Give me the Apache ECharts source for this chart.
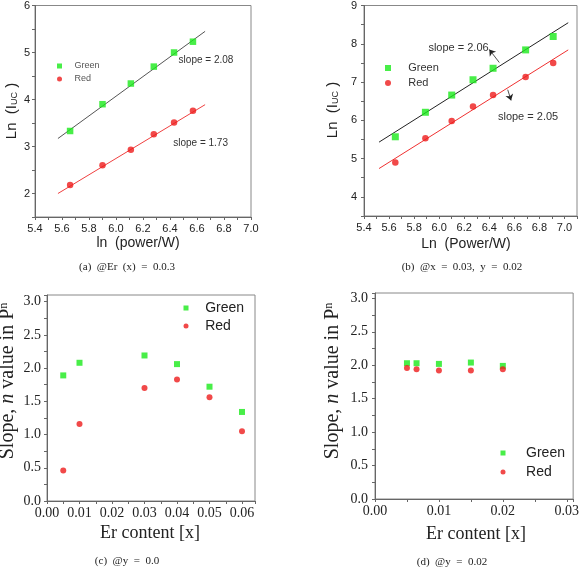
<!DOCTYPE html>
<html>
<head>
<meta charset="utf-8">
<script src="https://cdn.jsdelivr.net/npm/echarts@6/dist/echarts.min.js"></script>
<style>
  html, body { margin: 0; background: #fff; }
  #main { width: 582px; height: 567px; }
</style>
</head>
<body>
<div id="main"></div>
<script>
// (a) ln(I) vs ln(power), Er x = 0.03
const aPower = [5.66, 5.90, 6.11, 6.28, 6.43, 6.57];
const aGreen = [3.33, 3.90, 4.34, 4.70, 5.00, 5.23];
const aRed = [2.18, 2.60, 2.93, 3.26, 3.51, 3.76];
const aFitX = [5.57, 6.66];
const aFitGreen = [3.17, 5.45];
const aFitRed = [2.00, 3.89];
const aSlopeText = ["slope = 2.08", "slope = 1.73"];
const aSlopeAt = [[6.46, 4.83], [6.42, 3.06]];

// (b) x = 0.03, y = 0.02
const bPower = [5.65, 5.89, 6.10, 6.27, 6.43, 6.69, 6.91];
const bGreen = [5.57, 6.21, 6.66, 7.06, 7.36, 7.84, 8.19];
const bRed = [4.90, 5.53, 5.98, 6.36, 6.66, 7.13, 7.50];
const bFitX = [5.52, 7.03];
const bFitGreen = [5.43, 8.55];
const bFitRed = [4.74, 7.84];
const bSlopeText = ["slope = 2.06", "slope = 2.05"];
const bSlopeAt = [[5.91, 7.90], [6.465, 6.08]];
const bArrows = [[[6.48, 7.51], [6.40, 7.85]], [[6.547, 6.80], [6.574, 6.52]]];

// (c) slope vs Er content, y = 0.0
const cEr = [0.005, 0.01, 0.03, 0.04, 0.05, 0.06];
const cGreen = [1.89, 2.08, 2.19, 2.06, 1.72, 1.34];
const cRed = [0.46, 1.16, 1.70, 1.83, 1.56, 1.05];

// (d) slope vs Er content, y = 0.02
const dEr = [0.005, 0.0065, 0.01, 0.015, 0.02];
const dGreen = [2.03, 2.03, 2.02, 2.04, 1.99];
const dRed = [1.96, 1.94, 1.92, 1.92, 1.94];

const GREEN = "#1aea1a";
const RED = "#ee1c1c";
const SANS = 'Arial, "Liberation Sans", sans-serif';
const SERIF = '"Times New Roman", "Liberation Serif", serif';

const pairs = (xs, ys) => xs.map((x, i) => [x, ys[i]]);
// only label the ticks that fall on a multiple of step
const every = (step, digits) => v =>
  Math.abs(v / step - Math.round(v / step)) < 1e-6 ? v.toFixed(digits) : "";

function axis(gridIndex, min, max, interval, fmt, font, size, margin) {
  return {
    type: "value", gridIndex, min, max, interval,
    axisLine: { show: true, onZero: false, lineStyle: { color: "#666" } },
    axisTick: { show: true, length: 3, lineStyle: { color: "#666" } },
    splitLine: { show: false },
    axisLabel: { formatter: fmt, fontFamily: font, fontSize: size, color: "#222", margin }
  };
}

function dots(idx, name, xs, ys, size) {
  return {
    type: "scatter", name, xAxisIndex: idx, yAxisIndex: idx, z: 3,
    symbol: name === "Green" ? "rect" : "circle",
    symbolSize: size,
    itemStyle: { color: name === "Green" ? GREEN : RED },
    data: pairs(xs, ys)
  };
}

function fit(idx, name, xs, ys, color, text, at, fontSize) {
  return {
    type: "line", name, xAxisIndex: idx, yAxisIndex: idx, z: 2,
    symbol: "none", silent: true,
    lineStyle: { color, width: 1 },
    data: pairs(xs, ys),
    markPoint: {
      symbol: "circle", symbolSize: 1,
      itemStyle: { color: "rgba(0,0,0,0)" },
      label: {
        show: true, position: "right", distance: 0, formatter: text,
        fontFamily: SANS, fontSize, color: "#333"
      },
      data: [{ coord: at }]
    }
  };
}

function legend(left, top, size, fontSize, gap, pad, color) {
  return {
    data: ["Green", "Red"], orient: "vertical", left, top, padding: 0,
    itemWidth: size, itemHeight: size, itemGap: gap, selectedMode: false,
    formatter: n => pad + n,
    textStyle: { fontFamily: SANS, fontSize, lineHeight: fontSize, color }
  };
}

function label(x, y, text, font, size, rotate, rich) {
  return {
    type: "text", x, y, rotation: rotate ? Math.PI / 2 : 0,
    style: {
      text, fontFamily: font, fontSize: size, fill: "#222",
      align: "center", verticalAlign: "middle",
      textAlign: "center", textVerticalAlign: "middle",
      rich: rich || {}
    }
  };
}

const subRich = { sub: { fontSize: 9, fontFamily: SANS, verticalAlign: "bottom", fill: "#222" } };
const slopeRich = {
  i: { fontStyle: "italic", fontFamily: SERIF, fontSize: 20, fill: "#222" },
  sup: { fontFamily: SERIF, fontSize: 12, verticalAlign: "top", fill: "#222" }
};

const chart = echarts.init(document.getElementById("main"));

const option = {
  animation: false,
  backgroundColor: "#fff",
  grid: [
    { left: 35, top: 1, width: 216, height: 216, show: true, borderColor: "#888" },
    { left: 364, top: 5, width: 213, height: 211, show: true, borderColor: "#888" },
    { left: 47, top: 295, width: 208, height: 206, show: true, borderColor: "#888" },
    { left: 375, top: 293, width: 201, height: 206, show: true, borderColor: "#888" }
  ],
  xAxis: [
    axis(0, 5.4, 7.0, 0.1, every(0.2, 1), SANS, 11, 6),
    axis(1, 5.4, 7.1, 0.1, every(0.2, 1), SANS, 11, 6),
    axis(2, 0, 0.064, 0.005, every(0.01, 2), SERIF, 14, 5),
    axis(3, 0, 0.031, 0.005, every(0.01, 2), SERIF, 14, 5)
  ],
  yAxis: [
    axis(0, 1.5, 6, 0.5, every(1, 0), SANS, 11, 5),
    axis(1, 3.5, 9, 0.5, every(1, 0), SANS, 11, 7),
    axis(2, 0, 3.1, 0.25, every(0.5, 1), SERIF, 14, 6),
    axis(3, 0, 3.08, 0.25, every(0.5, 1), SERIF, 14, 7)
  ],
  legend: [
    legend(57, 61.5, 5, 9, 4, "   ", "#555"),
    legend(385, 62.5, 6, 11, 4, "    ", "#333"),
    legend(183.5, 301, 5, 14, 4, "   ", "#222"),
    legend(500.5, 446, 5, 14, 5, "    ", "#222")
  ],
  series: [
    fit(0, "fitAGreen", aFitX, aFitGreen, "#555", aSlopeText[0], aSlopeAt[0], 10),
    fit(0, "fitARed", aFitX, aFitRed, "#f04040", aSlopeText[1], aSlopeAt[1], 10),
    dots(0, "Green", aPower, aGreen, 6.5),
    dots(0, "Red", aPower, aRed, 6.5),

    Object.assign(fit(1, "fitBGreen", bFitX, bFitGreen, "#222", bSlopeText[0], bSlopeAt[0], 11), {
      markLine: {
        silent: true, symbol: ["none", "arrow"], symbolSize: 6,
        lineStyle: { color: "#222", width: 0.8, type: "solid" },
        label: { show: false },
        data: bArrows.map(a => [{ coord: a[0] }, { coord: a[1] }])
      }
    }),
    fit(1, "fitBRed", bFitX, bFitRed, "#f03030", bSlopeText[1], bSlopeAt[1], 11),
    dots(1, "Green", bPower, bGreen, 7),
    dots(1, "Red", bPower, bRed, 6.5),

    dots(2, "Green", cEr, cGreen, 6),
    dots(2, "Red", cEr, cRed, 6),
    dots(3, "Green", dEr, dGreen, 6),
    dots(3, "Red", dEr, dRed, 6)
  ],
  graphic: [
    label(12, 111, "Ln  (I{sub|UC} )", SANS, 15, true, subRich),
    label(138, 243, "ln  (power/W)", SANS, 14, false),
    label(127, 267, "(a)  @Er  (x)  =  0.0.3", SERIF, 11, false),

    label(333, 110, "Ln  (I{sub|UC} )", SANS, 15, true, subRich),
    label(466, 244, "Ln  (Power/W)", SANS, 14, false),
    label(462, 267, "(b)  @x  =  0.03,  y  =  0.02", SERIF, 11, false),

    label(8, 381, "Slope, {i|n} value in P{sup|n}", SERIF, 20, true, slopeRich),
    label(150, 533, "Er content [x]", SERIF, 18, false),
    label(127, 561, "(c)  @y  =  0.0", SERIF, 11, false),

    label(333, 381, "Slope, {i|n} value in P{sup|n}", SERIF, 20, true, slopeRich),
    label(476, 534, "Er content [x]", SERIF, 18, false),
    label(452, 562, "(d)  @y  =  0.02", SERIF, 11, false)
  ]
};

chart.setOption(option);
</script>
</body>
</html>
